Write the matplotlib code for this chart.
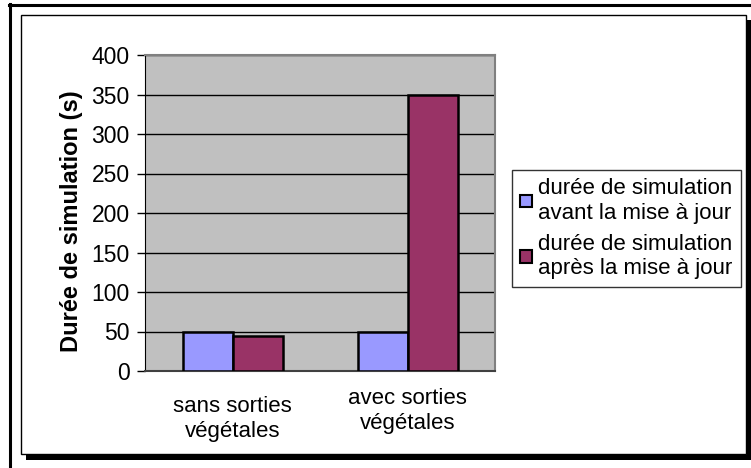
import matplotlib.pyplot as plt
import numpy as np
from matplotlib.patches import Rectangle, Patch
from matplotlib.lines import Line2D

plt.rcParams['font.family'] = ['Liberation Sans', 'DejaVu Sans']

categories = ['sans sorties\nvégétales', 'avec sorties\nvégétales']
avant = [50, 50]
apres = [44, 350]
series_labels = ['durée de simulation\navant la mise à jour',
                 'durée de simulation\naprès la mise à jour']
yticks = [0, 50, 100, 150, 200, 250, 300, 350, 400]

W, H = 751, 468
fig = plt.figure(figsize=(W / 100, H / 100), dpi=100)

def fx(px):
    return px / W

def fy(py):
    return 1 - py / H

# outer frame lines and shadowed chart box, kept behind the axes
fig.add_artist(Line2D([fx(9), 1], [fy(5), fy(5)], color='black', lw=2.2, zorder=-10))
fig.add_artist(Line2D([fx(10), fx(10)], [fy(4), 0], color='black', lw=2.2, zorder=-10))
fig.add_artist(Rectangle((fx(26), fy(460)), fx(751) - fx(26), fy(455) - fy(460),
                         color='black', lw=0, zorder=-10))
fig.add_artist(Rectangle((fx(747), fy(460)), fx(751) - fx(747), fy(20) - fy(460),
                         color='black', lw=0, zorder=-10))
fig.add_artist(Rectangle((fx(21), fy(454)), fx(746) - fx(21), fy(15) - fy(454),
                         facecolor='white', edgecolor='black', lw=1.0, zorder=-9))

ax = fig.add_axes([fx(145), fy(371), fx(495) - fx(145), fy(55) - fy(371)])
ax.set_facecolor('#C0C0C0')

x = np.arange(len(categories))
w = 1 / 3.5
ax.bar(x - w / 2, avant, w, color='#9999FF', edgecolor='black', lw=1.8, zorder=3)
ax.bar(x + w / 2, apres, w, color='#993366', edgecolor='black', lw=1.8, zorder=3)

ax.set_xlim(-0.5, 1.5)
ax.set_ylim(0, 400)
ax.set_yticks(yticks)
ax.yaxis.grid(True, color='black', lw=1.0, zorder=1)
ax.set_axisbelow(True)
ax.set_xticks([])
ax.tick_params(axis='y', length=6, width=1, labelsize=16.5, pad=5, direction='out')

# category labels, staggered like the original
offsets = [48, 40]
for xi, lab, off in zip(x, categories, offsets):
    ax.annotate(lab, xy=(xi, 0), xycoords=('data', 'axes fraction'),
                xytext=(0, -off), textcoords='offset pixels',
                ha='center', va='center', fontsize=16, linespacing=1.3,
                annotation_clip=False)

for s in ['top', 'right']:
    ax.spines[s].set_color('#808080')
    ax.spines[s].set_linewidth(1.5)
ax.spines['left'].set_color('black')
ax.spines['bottom'].set_color('#404040')
ax.spines['bottom'].set_linewidth(1.5)

ax.set_ylabel('Durée de simulation (s)', fontsize=17, fontweight='bold', va='center')
ax.yaxis.set_label_coords((72 - 145) / 350, (371 - 221) / 316)

handles = [Patch(facecolor='#9999FF', edgecolor='black', lw=1.5),
           Patch(facecolor='#993366', edgecolor='black', lw=1.5)]
leg = fig.legend(handles, series_labels, loc='upper left',
                 bbox_to_anchor=(fx(512), fy(170)), fontsize=16,
                 frameon=True, fancybox=False, edgecolor='black',
                 handlelength=0.5, handleheight=0.5, handletextpad=0.3,
                 borderpad=0.38, labelspacing=0.45, borderaxespad=0)
leg.get_frame().set_linewidth(1.0)
for t in leg.get_texts():
    t.set_linespacing(1.2)

fig.savefig('out.png', dpi=100)
